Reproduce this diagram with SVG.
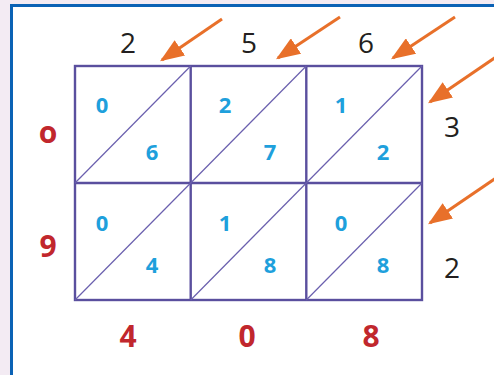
<svg xmlns="http://www.w3.org/2000/svg" width="494" height="375" viewBox="0 0 494 375">
<defs>
<style>
.grid{fill:none;stroke:#5a4f9e;stroke-width:2.4}
.diag{stroke:#6a5fae;stroke-width:1.2}
.top{font-family:"Open Sans","Liberation Sans",sans-serif;font-size:28px;fill:#231f20;text-anchor:middle}
.red{font-family:"Open Sans","Liberation Sans",sans-serif;font-size:30px;font-weight:bold;fill:#c1272d;text-anchor:middle}
.blue{font-family:"Open Sans","Liberation Sans",sans-serif;font-size:22px;font-weight:bold;fill:#1ea0dc;text-anchor:middle}
.arr{stroke:#e8702a;stroke-width:3;fill:none;marker-end:url(#ah)}
</style>
<marker id="ah" viewBox="0 0 10 10" refX="9" refY="5" markerWidth="8" markerHeight="6.2" orient="auto" markerUnits="strokeWidth" preserveAspectRatio="none">
<path d="M0,0 L10,5 L0,10 z" fill="#e8702a"/>
</marker>
</defs>
<rect x="0" y="0" width="494" height="375" fill="#f3ebf3"/>
<rect x="11.5" y="5.5" width="500" height="400" fill="#ffffff" stroke="#0b62b5" stroke-width="3"/>
<g id="grid">
<rect class="grid" x="75" y="66" width="347" height="234"/>
<line class="grid" x1="190.7" y1="66" x2="190.7" y2="300"/>
<line class="grid" x1="306.3" y1="66" x2="306.3" y2="300"/>
<line class="grid" x1="75" y1="183" x2="422" y2="183"/>
<line class="diag" x1="75" y1="183" x2="190.7" y2="66"/>
<line class="diag" x1="190.7" y1="183" x2="306.3" y2="66"/>
<line class="diag" x1="306.3" y1="183" x2="422" y2="66"/>
<line class="diag" x1="75" y1="300" x2="190.7" y2="183"/>
<line class="diag" x1="190.7" y1="300" x2="306.3" y2="183"/>
<line class="diag" x1="306.3" y1="300" x2="422" y2="183"/>
</g>
<g id="top-digits">
<text class="top" x="128" y="53">2</text>
<text class="top" x="249" y="53">5</text>
<text class="top" x="366" y="53">6</text>
<text class="top" x="452" y="137">3</text>
<text class="top" x="452" y="278">2</text>
</g>
<g id="cells">
<text class="blue" x="102" y="113">0</text>
<text class="blue" x="152" y="160">6</text>
<text class="blue" x="225" y="113">2</text>
<text class="blue" x="270" y="160">7</text>
<text class="blue" x="341" y="113">1</text>
<text class="blue" x="383" y="160">2</text>
<text class="blue" x="102" y="231">0</text>
<text class="blue" x="152" y="273">4</text>
<text class="blue" x="225" y="231">1</text>
<text class="blue" x="270" y="273">8</text>
<text class="blue" x="341" y="231">0</text>
<text class="blue" x="383" y="273">8</text>
</g>
<g id="result">
<text class="red" x="48" y="143">o</text>
<text class="red" x="48" y="257">9</text>
<text class="red" x="128" y="347">4</text>
<text class="red" x="247" y="347">0</text>
<text class="red" x="371" y="347">8</text>
</g>
<g id="connectors">
<line class="arr" x1="222" y1="19" x2="162" y2="60"/>
<line class="arr" x1="340" y1="17" x2="278" y2="58"/>
<line class="arr" x1="455" y1="17" x2="393" y2="58"/>
<line class="arr" x1="496" y1="57" x2="430" y2="102"/>
<line class="arr" x1="496" y1="178" x2="430" y2="223"/>
</g>
</svg>
